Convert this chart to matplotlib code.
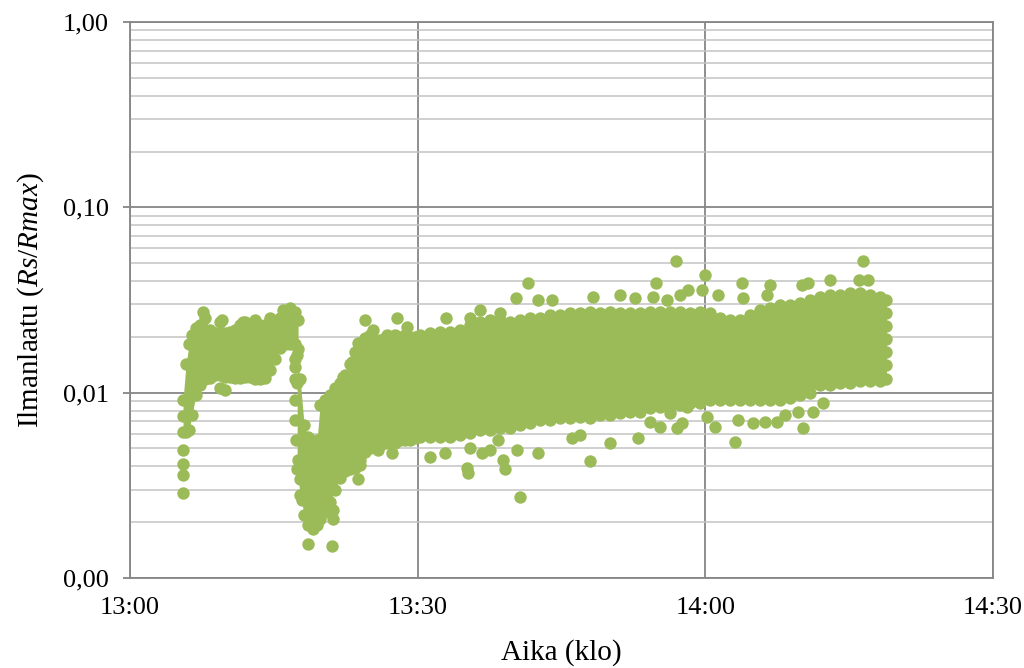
import matplotlib
matplotlib.use('Agg')
import matplotlib.pyplot as plt
from matplotlib.ticker import LogLocator, NullFormatter

plt.rcParams['font.family'] = ['Liberation Serif', 'DejaVu Serif']
plt.rcParams['mathtext.fontset'] = 'custom'
plt.rcParams['mathtext.rm'] = 'Liberation Serif'
plt.rcParams['mathtext.it'] = 'Liberation Serif:italic'

# ---- data: minutes after 13:00, ratio Rs/Rmax ----
# first burst (13:05 - 13:17): lower / upper extent of the point cloud
seg1_t = [5.53, 5.84, 6.16, 6.47, 6.89, 7.30, 7.83, 8.35, 8.87, 9.39, 9.91, 10.44, 10.96,
          11.48, 12.00, 12.52, 13.04, 13.57, 14.09, 14.61, 15.13, 15.65, 16.17, 16.70, 17.22, 17.53]
seg1_hi = [0.00917, 0.0142, 0.0182, 0.0205, 0.0224, 0.0233, 0.0254, 0.0219, 0.0211, 0.0241, 0.0211,
           0.0213, 0.0219, 0.0233, 0.0241, 0.0233, 0.0248, 0.0233, 0.0233, 0.0248, 0.0233, 0.0254,
           0.0273, 0.0280, 0.0273, 0.0248]
seg1_lo = [0.00616, 0.00616, 0.00632, 0.00761, 0.00976, 0.0110, 0.0118, 0.0120, 0.0125, 0.0125, 0.0122,
           0.0122, 0.0120, 0.0120, 0.0122, 0.0122, 0.0118, 0.0118, 0.0120, 0.0133, 0.0151, 0.0175,
           0.0182, 0.0182, 0.0182, 0.0171]

# drop and main measurement period (13:17 - 14:19)
seg2_t = [17.43, 17.74, 18.16, 18.57, 18.99, 19.51, 19.83, 20.35, 20.87, 21.39, 21.91, 22.44, 22.96,
          23.48, 24.00, 24.52, 25.04, 25.57, 26.09, 26.61, 27.13, 27.65, 28.17, 28.70, 29.22, 29.74,
          30.26, 31.31, 32.35, 33.39, 34.44, 35.48, 36.52, 37.57, 38.61, 39.65, 40.70, 41.74, 42.78,
          43.83, 44.87, 45.91, 46.96, 48.00, 49.05, 50.09, 51.13, 52.18, 53.22, 54.26, 55.30, 56.35,
          57.39, 58.44, 59.48, 60.52, 61.57, 62.61, 63.65, 64.70, 65.74, 66.79, 67.83, 68.87, 69.91,
          70.96, 72.00, 73.05, 74.09, 75.13, 76.18, 77.22, 78.26, 78.89]
seg2_hi = [0.0160, 0.0118, 0.00672, 0.00579, 0.00544, 0.00558, 0.00862, 0.00917, 0.00976, 0.0106,
           0.0113, 0.0125, 0.0142, 0.0166, 0.0182, 0.0198, 0.0205, 0.0193, 0.0193, 0.0198, 0.0200,
           0.0205, 0.0200, 0.0205, 0.0200, 0.0200, 0.0205, 0.0211, 0.0213, 0.0213, 0.0219, 0.0233,
           0.0241, 0.0248, 0.0248, 0.0241, 0.0248, 0.0254, 0.0254, 0.0263, 0.0263, 0.0270, 0.0270,
           0.0273, 0.0270, 0.0273, 0.0270, 0.0270, 0.0270, 0.0273, 0.0273, 0.0273, 0.0273, 0.0270,
           0.0273, 0.0270, 0.0254, 0.0248, 0.0248, 0.0263, 0.0280, 0.0287, 0.0298, 0.0298, 0.0306,
           0.0317, 0.0329, 0.0338, 0.0338, 0.0346, 0.0346, 0.0338, 0.0329, 0.0317]
seg2_lo = [0.00385, 0.00282, 0.00220, 0.00194, 0.00194, 0.00194, 0.00207, 0.00228, 0.00258, 0.00300,
           0.00348, 0.00376, 0.00385, 0.00394, 0.00435, 0.00481, 0.00505, 0.00524, 0.00524, 0.00538,
           0.00538, 0.00538, 0.00558, 0.00558, 0.00558, 0.00572, 0.00579, 0.00579, 0.00579, 0.00579,
           0.00594, 0.00609, 0.00632, 0.00632, 0.00647, 0.00647, 0.00672, 0.00689, 0.00715, 0.00715,
           0.00733, 0.00733, 0.00742, 0.00733, 0.00761, 0.00761, 0.00780, 0.00790, 0.00790, 0.00830,
           0.00840, 0.00840, 0.00862, 0.00883, 0.00883, 0.00917, 0.00917, 0.00917, 0.00917, 0.00917,
           0.00917, 0.00917, 0.00917, 0.00940, 0.00976, 0.0100, 0.0110, 0.0110, 0.0113, 0.0113,
           0.0115, 0.0115, 0.0115, 0.0118]

# scattered individual readings outside the dense cloud
ext_t = [7.62, 9.60, 11.79, 14.61, 15.97, 16.70, 22.23, 23.17, 23.79, 24.52, 25.36, 26.82, 27.86,
         28.91, 32.98, 35.48, 36.52, 38.61, 40.28, 41.53, 42.58, 44.04, 48.31, 51.13, 52.70, 54.58,
         54.89, 56.04, 56.98, 57.39, 58.23, 59.69, 60.00, 61.36, 63.86, 63.97, 66.47, 66.79, 70.12,
         70.75, 73.05, 76.07, 76.49, 76.99,
         5.53, 5.53, 5.53, 5.53, 5.53, 9.39, 9.91, 17.22, 17.43, 18.57, 21.08, 19.10, 21.18, 21.18,
         23.79, 24.00, 25.88, 27.34, 31.31, 32.87, 35.17, 35.27, 35.48, 36.73, 37.57, 38.40, 38.92,
         39.13, 40.38, 40.70, 42.58, 46.12, 46.96, 48.00, 50.09, 53.01, 54.26, 55.30, 56.35, 57.08,
         57.60, 58.12, 60.21, 61.05, 63.13, 63.45, 65.01, 66.26, 67.52, 68.35, 69.71, 70.23, 71.27,
         72.32, 78.89, 78.89, 78.89, 78.89, 78.89,
         17.22, 17.22, 17.22, 17.22, 17.32, 17.53, 17.74, 17.95]
ext_v = [0.0273, 0.0248, 0.0241, 0.0254, 0.0280, 0.0287, 0.0122, 0.0147, 0.0186, 0.0248, 0.0219,
         0.0205, 0.0254, 0.0227, 0.0254, 0.0254, 0.0280, 0.0270, 0.0325, 0.0392, 0.0317, 0.0317,
         0.0329, 0.0338, 0.0325, 0.0329, 0.0392, 0.0317, 0.0515, 0.0338, 0.0359, 0.0359, 0.0433,
         0.0338, 0.0392, 0.0325, 0.0338, 0.0382, 0.0382, 0.0392, 0.0407, 0.0407, 0.0515, 0.0407,
         0.0075, 0.00493, 0.00414, 0.00361, 0.00289, 0.0106, 0.0104, 0.0138, 0.0113, 0.00152,
         0.00148, 0.00183, 0.00234, 0.00207, 0.00340, 0.00409, 0.00493, 0.00475, 0.00452, 0.00475,
         0.00394, 0.00370, 0.00505, 0.00475, 0.00493, 0.00558, 0.00435, 0.00389, 0.00493, 0.00272,
         0.00475, 0.00572, 0.00594, 0.00430, 0.00538, 0.00572, 0.00698, 0.00656, 0.00780, 0.00647,
         0.00689, 0.00840, 0.00742, 0.00656, 0.00544, 0.00715, 0.00689, 0.00698, 0.00698, 0.00761,
         0.00790, 0.00647, 0.00790, 0.00883, 0.0270, 0.0229, 0.0195, 0.0166, 0.0141,
         0.0151, 0.0118, 0.00917, 0.00715, 0.00558, 0.00435, 0.00340, 0.00265]

x_ticks = [0, 30, 60, 90]
x_labels = ['13:00', '13:30', '14:00', '14:30']
y_ticks = [0.001, 0.01, 0.1, 1.0]
y_labels = ['0,00', '0,01', '0,10', '1,00']

GREEN = '#9BBB59'
GRID_MAJ = '#868686'
GRID_MIN = '#c3c3c3'

fig = plt.figure(figsize=(10.24, 6.68), dpi=100)
ax = fig.add_axes([130 / 1024, 90 / 668, 863 / 1024, 556 / 668])
ax.set_yscale('log')
ax.set_ylim(y_ticks[0], y_ticks[-1])
ax.set_xlim(x_ticks[0], x_ticks[-1])

ax.set_axisbelow(True)
ax.yaxis.set_minor_locator(LogLocator(base=10, subs=range(2, 10)))
ax.yaxis.set_minor_formatter(NullFormatter())
ax.grid(True, which='minor', axis='y', color=GRID_MIN, lw=1.1)
ax.grid(True, which='major', color=GRID_MAJ, lw=1.3)

ms = 80
for t, lo, hi in ((seg1_t, seg1_lo, seg1_hi), (seg2_t, seg2_lo, seg2_hi)):
    ax.fill_between(t, lo, hi, color=GREEN, lw=0, zorder=2)
    ax.scatter(t, lo, s=ms, color=GREEN, linewidths=0, zorder=3)
    ax.scatter(t, hi, s=ms, color=GREEN, linewidths=0, zorder=3)
ax.scatter(ext_t, ext_v, s=ms, color=GREEN, linewidths=0, zorder=3)

ax.set_xticks(x_ticks)
ax.set_xticklabels(x_labels)
ax.set_yticks(y_ticks)
ax.set_yticklabels(y_labels)
ax.tick_params(axis='y', which='minor', length=0)
ax.tick_params(axis='y', which='major', length=5, width=1.3, color=GRID_MAJ,
               labelsize=19, pad=10)
ax.tick_params(axis='x', length=0, labelsize=19, pad=14)
for s in ax.spines.values():
    s.set_color(GRID_MAJ)
    s.set_linewidth(1.3)

ax.set_xlabel('Aika (klo)', fontsize=21, labelpad=14)
ax.set_ylabel('Ilmanlaatu ($\\mathit{Rs/Rmax}$)', fontsize=21, labelpad=12)

fig.savefig('out.png', dpi=100)
